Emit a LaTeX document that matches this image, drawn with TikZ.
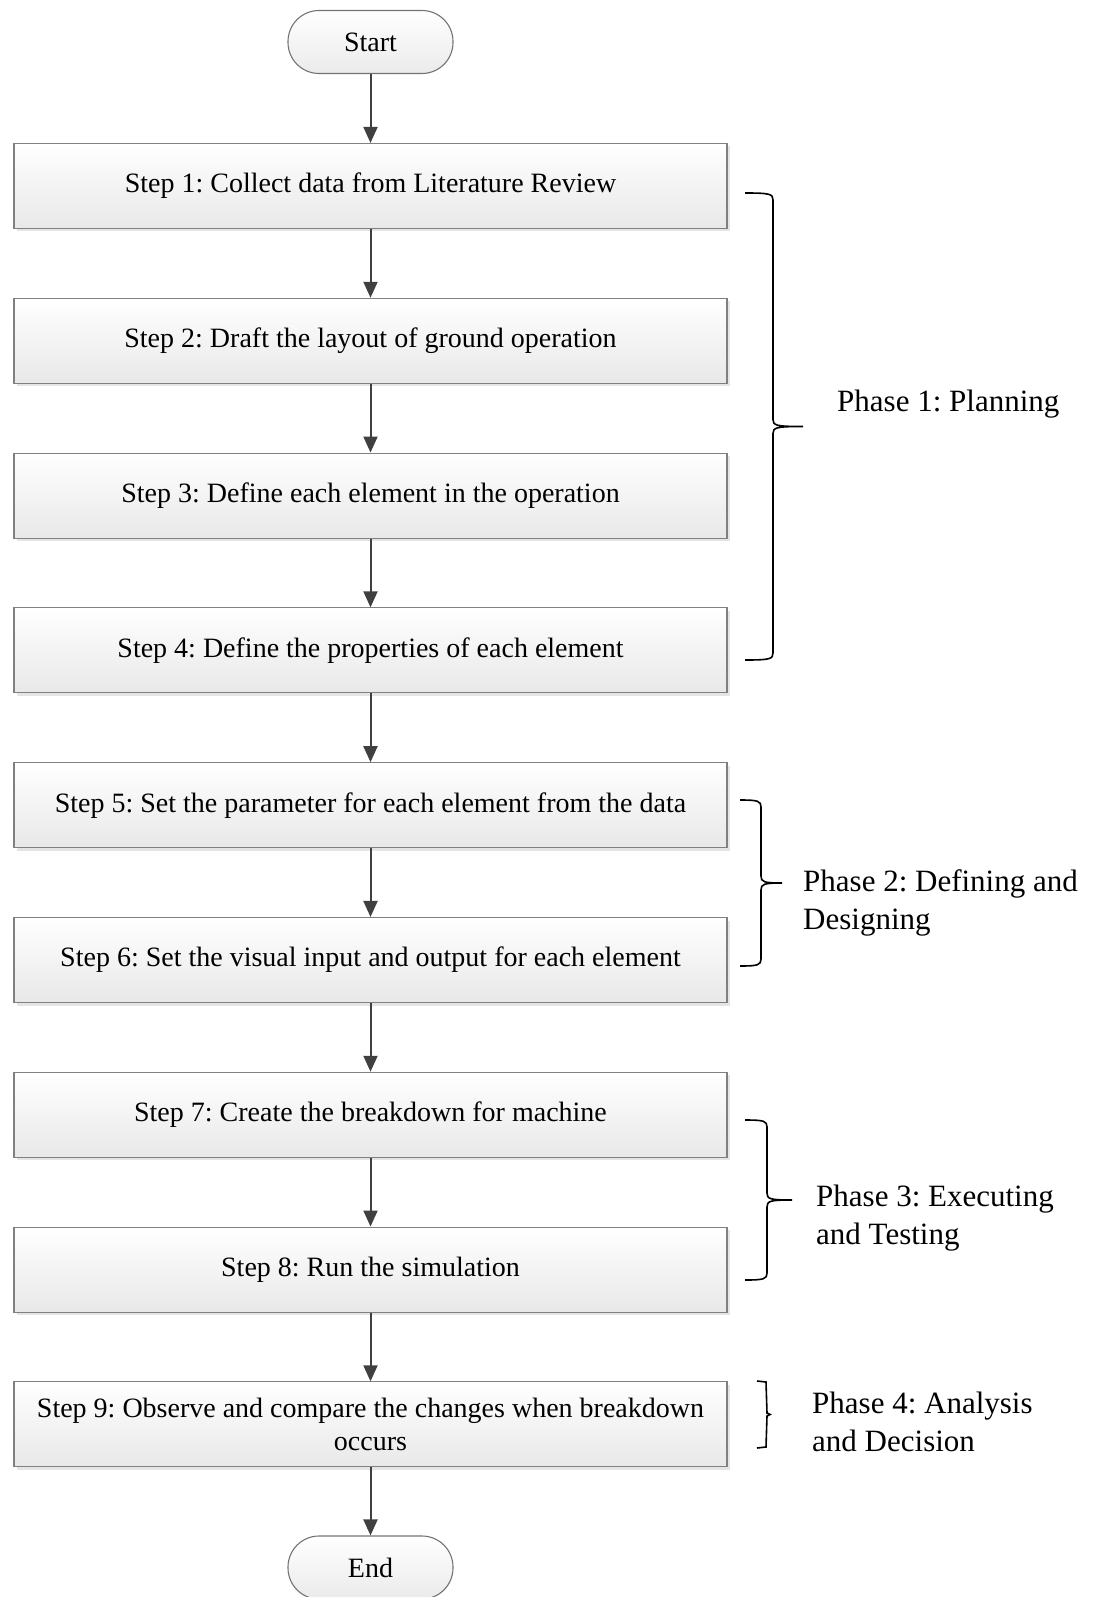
\documentclass[tikz,border=0pt]{standalone}
\usepackage{fontspec}
\setmainfont{Liberation Serif}
\usetikzlibrary{arrows.meta,shadows}
\newcommand{\phbrace}[5]{% x1,x2,x3,ytop,ybot
 \draw[bracestyle] (#1,#4) .. controls ({#2-3},#4) and (#2,{#4+1}) .. (#2,{#4+7})
   -- (#2,{(#4+#5)/2-7}) .. controls (#2,{(#4+#5)/2-1}) and ({#2+3},{(#4+#5)/2}) .. (#3,{(#4+#5)/2})
   .. controls ({#2+3},{(#4+#5)/2}) and (#2,{(#4+#5)/2+1}) .. (#2,{(#4+#5)/2+7})
   -- (#2,{#5-7}) .. controls (#2,{#5-1}) and ({#2-3},#5) .. (#1,#5);}
\frenchspacing
\begin{document}
\begin{tikzpicture}[x=1pt,y=-1pt,
  stepbox/.style={draw=black!50, line width=1.1pt, top color=white, bottom color=black!9,
    minimum width=713pt, minimum height=85pt, inner sep=0pt, align=center,
    font=\fontsize{28}{33.6}\selectfont,
    drop shadow={shadow xshift=3pt,shadow yshift=-3pt,fill=black!10,opacity=1}},
  terminal/.style={draw=black!55, line width=1.1pt, rounded corners=31pt, top color=white,
    bottom color=black!8, minimum width=165pt, minimum height=63pt, inner sep=0pt,
    font=\fontsize{28}{33.6}\selectfont},
  flow/.style={draw=black!75, line width=2pt, -{Triangle[width=14pt,length=16pt]}},
  bracestyle/.style={draw=black, line width=1.6pt},
  phasetext/.style={anchor=west, align=left, inner sep=0pt, font=\fontsize{31}{37.5}\selectfont}]
\useasboundingbox (0,0) rectangle (1093,1597);
\node[terminal] (start) at (370.5,42) {Start};
\node[stepbox] (s1) at (370.5,186) {Step 1: Collect data from Literature Review};
\node[stepbox] (s2) at (370.5,340.8) {Step 2: Draft the layout of ground operation};
\node[stepbox] (s3) at (370.5,495.6) {Step 3: Define each element in the operation};
\node[stepbox] (s4) at (370.5,650.4) {Step 4: Define the properties of each element};
\node[stepbox] (s5) at (370.5,805.2) {Step 5: Set the parameter for each element from the data};
\node[stepbox] (s6) at (370.5,960) {Step 6: Set the visual input and output for each element};
\node[stepbox] (s7) at (370.5,1114.8) {Step 7: Create the breakdown for machine};
\node[stepbox] (s8) at (370.5,1269.6) {Step 8: Run the simulation};
\node[stepbox] (s9) at (370.5,1424.4) {Step 9: Observe and compare the changes when breakdown\\occurs};
\node[terminal] (end) at (370.5,1567.5) {End};
\draw[flow] (start) -- (s1);
\draw[flow] (s1) -- (s2);
\draw[flow] (s2) -- (s3);
\draw[flow] (s3) -- (s4);
\draw[flow] (s4) -- (s5);
\draw[flow] (s5) -- (s6);
\draw[flow] (s6) -- (s7);
\draw[flow] (s7) -- (s8);
\draw[flow] (s8) -- (s9);
\draw[flow] (s9) -- (end);
\phbrace{745}{773}{803}{193}{660}
\phbrace{740}{761}{782}{800}{966}
\phbrace{745}{767}{792}{1120}{1280}
\draw[bracestyle] (757,1381) -- (766,1382) -- (767,1413) -- (770,1414.5) -- (767,1416) -- (766,1447) -- (757,1448);
\node[phasetext] (p1) at (837,404) {Phase 1: Planning};
\node[phasetext] (p2) at (803,903) {Phase 2: Defining and\\Designing};
\node[phasetext] (p3) at (816,1218) {Phase 3: Executing\\and Testing};
\node[phasetext] (p4) at (812,1422) {Phase 4: Analysis\\and Decision};
\end{tikzpicture}
\end{document}
